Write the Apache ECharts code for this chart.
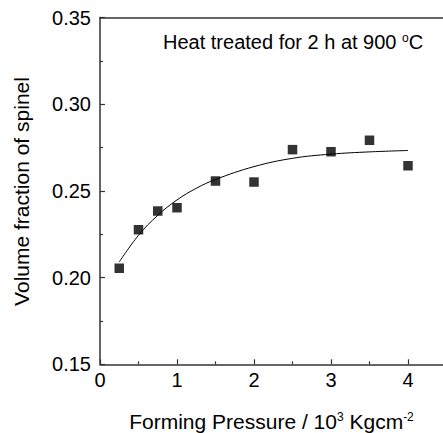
<!DOCTYPE html>
<html><head><meta charset="utf-8">
<script src="https://cdn.jsdelivr.net/npm/echarts@6/dist/echarts.min.js"></script>
<style>html,body{margin:0;padding:0;background:#fff}#c{width:443px;height:433px}</style>
</head><body><div id="c"></div>
<script>
// Measured data points
const pressure = [0.25, 0.5, 0.75, 1, 1.5, 2, 2.5, 3, 3.5, 4];
const spinel = [0.2054, 0.2276, 0.2384, 0.2403, 0.2557, 0.2551, 0.2738, 0.2726, 0.2792, 0.2645];
// Fitted curve
const fitX = [0.25, 0.5, 0.75, 1, 1.25, 1.5, 2, 2.5, 3, 3.5, 4];
const fitY = [0.2090, 0.2244, 0.2359, 0.2448, 0.2515, 0.2566, 0.2640, 0.2688, 0.2712, 0.2725, 0.2733];
const xTicks = [0, 1, 2, 3, 4];
const yTicks = [0.15, 0.20, 0.25, 0.30, 0.35];

const FONT = '"Liberation Sans", Arial, sans-serif';
const chart = echarts.init(document.getElementById('c'), null, {renderer: 'svg'});
const axisColor = '#333';
chart.setOption({
  animation: false,
  backgroundColor: '#fff',
  grid: {left: 100, top: 17.5, bottom: 68.7, right: -42, outerBoundsMode: 'none', containLabel: false},
  xAxis: [{
    type: 'value', min: 0, max: 5, interval: 1,
    axisLine: {show: true, onZero: false, lineStyle: {color: axisColor, width: 1.5}},
    axisTick: {show: true, inside: true, length: 5, lineStyle: {color: axisColor, width: 1.2}},
    minorTick: {show: true, splitNumber: 2, length: 3, lineStyle: {color: axisColor, width: 1.2}},
    splitLine: {show: false},
    axisLabel: {color: '#000', fontSize: 20, fontFamily: FONT, margin: 6,
      formatter: v => xTicks.includes(v) ? String(v) : ''},
    name: 'Forming Pressure / 10{sup|3} Kgcm{sup|-2}',
    nameLocation: 'middle', nameGap: 47,
    nameTextStyle: {color: '#000', fontSize: 21, fontFamily: FONT,
      padding: [0, 42, 0, 0],
      rich: {sup: {fontSize: 12, fontFamily: FONT, color: '#000', verticalAlign: 'top', padding: [0, 0, 9, 0]}}}
  }, {
    type: 'value', position: 'top', min: 0, max: 5,
    axisLine: {show: true, onZero: false, lineStyle: {color: axisColor, width: 1.5}},
    axisTick: {show: false}, axisLabel: {show: false}, splitLine: {show: false}
  }],
  yAxis: {
    type: 'value', min: 0.15, max: 0.35, interval: 0.05,
    axisLine: {show: true, onZero: false, lineStyle: {color: axisColor, width: 1.5}},
    axisTick: {show: true, inside: true, length: 5, lineStyle: {color: axisColor, width: 1.2}},
    minorTick: {show: true, splitNumber: 2, length: 3, lineStyle: {color: axisColor, width: 1.2}},
    splitLine: {show: false},
    axisLabel: {color: '#000', fontSize: 20, fontFamily: FONT, margin: 9,
      formatter: v => v.toFixed(2)}
  },
  graphic: [{
    type: 'text', left: 163, top: 32,
    style: {text: 'Heat treated for 2 h at 900 {sup|o}C', fill: '#000', fontSize: 20, fontFamily: FONT,
      rich: {sup: {fontSize: 12, fontFamily: FONT, fill: '#000', verticalAlign: 'top', padding: [0, 0, 8, 0]}}}
  }, {
    type: 'text', x: 21, y: 191.5, rotation: Math.PI / 2,
    style: {text: 'Volume fraction of spinel', fill: '#000', fontSize: 21, fontFamily: FONT,
      align: 'center', verticalAlign: 'middle'}
  }],
  series: [{
    type: 'line', data: fitX.map((x, i) => [x, fitY[i]]), smooth: 0.4,
    showSymbol: false, symbol: 'none',
    lineStyle: {color: '#000', width: 1}, z: 2
  }, {
    type: 'scatter', data: pressure.map((x, i) => [x, spinel[i]]),
    symbol: 'rect', symbolSize: 9.5, itemStyle: {color: '#000'}, z: 3
  }]
});
</script></body></html>
